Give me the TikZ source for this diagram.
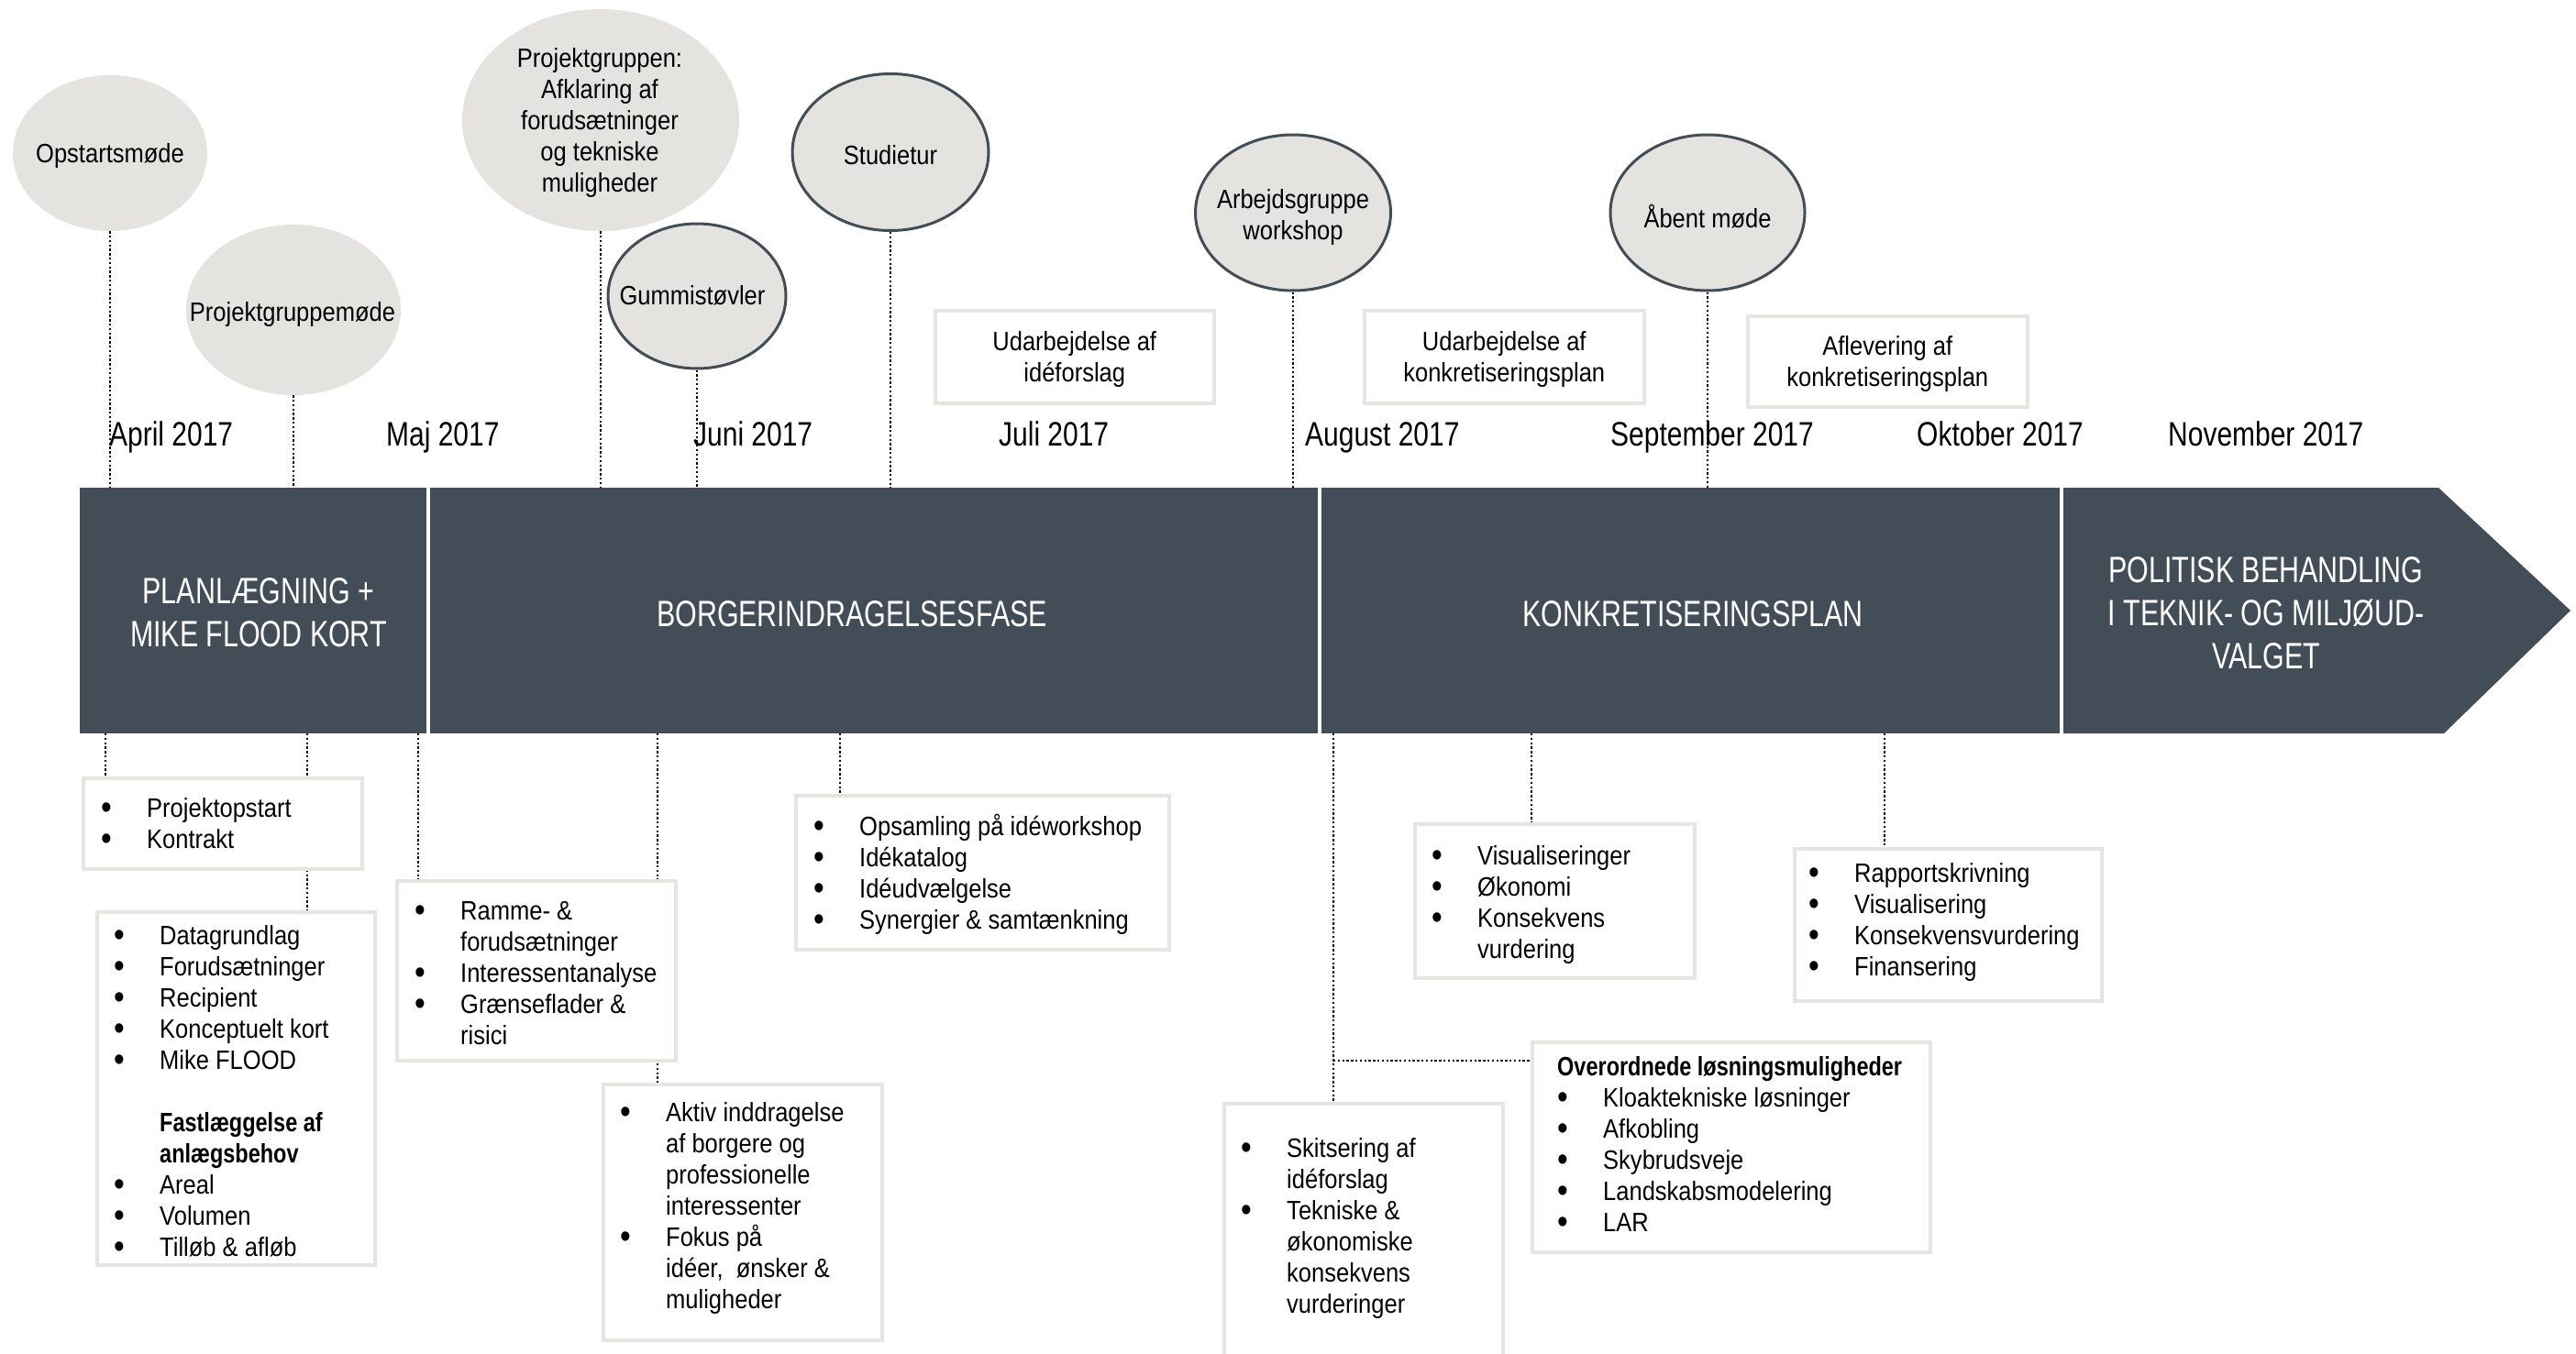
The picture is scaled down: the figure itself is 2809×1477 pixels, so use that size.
\documentclass[tikz,border=0pt]{standalone}
\usepackage{fontspec}
\setmainfont{Liberation Sans}
\newfontfamily\bodyf[FakeStretch=0.88]{Liberation Sans}
\newfontfamily\bodybf[FakeStretch=0.81]{Liberation Sans Bold}
\newfontfamily\monthf[FakeStretch=0.81]{Liberation Sans}
\newfontfamily\phasef[FakeStretch=0.76]{Liberation Sans}
\usetikzlibrary{shapes.geometric,backgrounds}
\definecolor{barc}{HTML}{434D57}
\definecolor{ellc}{HTML}{E4E3DF}
\definecolor{boxc}{HTML}{E6E5E1}
\newcommand{\listfont}{\bodyf\fontsize{29}{34}\selectfont}
\newcommand{\monthfont}{\monthf\fontsize{37}{44}\selectfont}
\newcommand{\phasefont}{\phasef\fontsize{40}{47}\selectfont}
\newcommand{\bul}{\raisebox{-2.5pt}{\fontsize{38}{34}\selectfont\textbullet}}
\newcommand{\itm}[1]{\makebox[50pt][l]{\bul}#1}
\newcommand{\cnt}[1]{\hspace*{50pt}#1}
\newcommand{\hd}[1]{{\bodybf #1}}
\tikzset{
  evt/.style={ellipse, fill=ellc, inner sep=0},
  evtb/.style={evt, draw=barc, line width=3pt},
  evttxt/.style={align=center, inner sep=0, font=\listfont},
  infobox/.style={rectangle, draw=boxc, line width=3.5pt, fill=white, inner sep=0, anchor=north west},
  listtxt/.style={anchor=base west, align=left, inner sep=0, font=\listfont},
  boxtxt/.style={align=center, inner sep=0, font=\listfont},
  dotl/.style={line width=2.3pt, dash pattern=on 2.3pt off 2.5pt, black},
  month/.style={anchor=base west, inner sep=0, font=\monthfont},
  phase/.style={text=white, align=center, inner sep=0, font=\phasefont},
}
\begin{document}
\begin{tikzpicture}[x=1pt,y=-1pt]
\useasboundingbox (0,0) rectangle (2809,1477);
\clip (0,0) rectangle (2809,1477);

% ---- bar ----
\fill[barc] (87,532) rectangle (465,800);
\fill[barc] (469,532) rectangle (1437,800);
\fill[barc] (1441,532) rectangle (2246,800);
\fill[barc] (2250,532) -- (2659,532) -- (2803,666) -- (2665,800) -- (2250,800) -- cycle;
\coordinate (bartop) at (0,532);
\coordinate (barbot) at (0,800);

\node[phase] (p1) at (282,668) {PLANLÆGNING +\\MIKE FLOOD KORT};
\node[phase] (p2) at (929,670) {BORGERINDRAGELSESFASE};
\node[phase] (p3) at (1846,670) {KONKRETISERINGSPLAN};
\node[phase] (p4) at (2471,669) {POLITISK BEHANDLING\\I TEKNIK- OG MILJØUD-\\VALGET};

% ---- events (ellipses) ----
\node[evt,  minimum width=212, minimum height=170] (e1) at (120,167) {};
\node[evt,  minimum width=234, minimum height=186] (e2) at (320,338) {};
\node[evt,  minimum width=302, minimum height=242] (e3) at (655,131) {};
\node[evtb, minimum width=194, minimum height=158] (e4) at (760,323) {};
\node[evtb, minimum width=214, minimum height=171] (e5) at (971,166) {};
\node[evtb, minimum width=213, minimum height=170] (e6) at (1410,232) {};
\node[evtb, minimum width=212, minimum height=170] (e7) at (1862,232) {};

\node[evttxt] (t1) at (120,170) {Opstartsmøde};
\node[evttxt] (t2) at (319,343) {Projektgruppemøde};
\node[evttxt] (t3) at (654,134) {Projektgruppen:\\Afklaring af\\forudsætninger\\og tekniske\\muligheder};
\node[evttxt] (t4) at (755,322) {Gummistøvler};
\node[evttxt] (t5) at (971,169) {Studietur};
\node[evttxt] (t6) at (1410,237) {Arbejdsgruppe\\workshop};
\node[evttxt] (t7) at (1862,236) {Åbent møde};

% ---- top task boxes ----
\node[infobox, minimum width=304, minimum height=101] (bT1) at (1018,337) {};
\node[infobox, minimum width=305, minimum height=101] (bT2) at (1486,337) {};
\node[infobox, minimum width=305, minimum height=99]  (bT3) at (1904,343) {};
\node[boxtxt] (x1) at ([yshift=-3pt]bT1.center) {Udarbejdelse af\\idéforslag};
\node[boxtxt] (x2) at ([yshift=-3pt]bT2.center) {Udarbejdelse af\\konkretiseringsplan};
\node[boxtxt] (x3) at ([yshift=-3pt]bT3.center) {Aflevering af\\konkretiseringsplan};

% ---- months ----
\node[month] (m4)  at (119,486)  {April 2017};
\node[month] (m5)  at (421,486)  {Maj 2017};
\node[month] (m6)  at (756,486)  {Juni 2017};
\node[month] (m7)  at (1089,486) {Juli 2017};
\node[month] (m8)  at (1423,486) {August 2017};
\node[month] (m9)  at (1756,486) {September 2017};
\node[month] (m10) at (2090,486) {Oktober 2017};
\node[month] (m11) at (2364,486) {November 2017};

% ---- lower boxes ----
\node[infobox, minimum width=304, minimum height=99]  (bA) at (89,847) {};
\node[infobox, minimum width=303, minimum height=385] (bB) at (104,993) {};
\node[infobox, minimum width=304, minimum height=196] (bC) at (431,959) {};
\node[infobox, minimum width=304, minimum height=279] (bG) at (656,1181) {};
\node[infobox, minimum width=407, minimum height=168] (bD) at (866,866) {};
\node[infobox, minimum width=305, minimum height=168] (bE) at (1541,897) {};
\node[infobox, minimum width=335, minimum height=166] (bF) at (1955,924) {};
\node[infobox, minimum width=434, minimum height=229] (bH) at (1669,1135) {};
\node[infobox, minimum width=304, minimum height=320] (bI) at (1333,1202) {};

% list texts: anchor = baseline of the LAST line
\node[listtxt] (lA) at (110,925) {\itm{Projektopstart}\\\itm{Kontrakt}};
\node[listtxt] (lB) at (124,1370) {\itm{Datagrundlag}\\\itm{Forudsætninger}\\\itm{Recipient}\\\itm{Konceptuelt kort}\\\itm{Mike FLOOD}\\\mbox{}\\\cnt{\hd{Fastlæggelse af}}\\\cnt{\hd{anlægsbehov}}\\\itm{Areal}\\\itm{Volumen}\\\itm{Tilløb \& afløb}};
\node[listtxt] (lC) at (452,1139) {\itm{Ramme- \&}\\\cnt{forudsætninger}\\\itm{Interessentanalyse}\\\itm{Grænseflader \&}\\\cnt{risici}};
\node[listtxt] (lG) at (676,1427) {\itm{Aktiv inddragelse}\\\cnt{af borgere og}\\\cnt{professionelle}\\\cnt{interessenter}\\\itm{Fokus på}\\\cnt{idéer, \ ønsker \&}\\\cnt{muligheder}};
\node[listtxt] (lD) at (887,1013) {\itm{Opsamling på idéworkshop}\\\itm{Idékatalog}\\\itm{Idéudvælgelse}\\\itm{Synergier \& samtænkning}};
\node[listtxt] (lE) at (1561,1045) {\itm{Visualiseringer}\\\itm{Økonomi}\\\itm{Konsekvens}\\\cnt{vurdering}};
\node[listtxt] (lF) at (1972,1064) {\itm{Rapportskrivning}\\\itm{Visualisering}\\\itm{Konsekvensvurdering}\\\itm{Finansering}};
\node[listtxt] (lH) at (1698,1343) {\hd{Overordnede løsningsmuligheder}\\\itm{Kloaktekniske løsninger}\\\itm{Afkobling}\\\itm{Skybrudsveje}\\\itm{Landskabsmodelering}\\\itm{LAR}};
\node[listtxt] (lI) at (1353,1432) {\itm{Skitsering af}\\\cnt{idéforslag}\\\itm{Tekniske \&}\\\cnt{økonomiske}\\\cnt{konsekvens}\\\cnt{vurderinger}};

% ---- dotted connectors (behind everything) ----
\coordinate (cA) at (115,800);
\coordinate (cB) at (335,800);
\coordinate (cC) at (456,800);
\coordinate (cG) at (717,800);
\coordinate (cD) at (916,800);
\coordinate (cI) at (1454,800);
\coordinate (cE) at (1670,800);
\coordinate (cF) at (2055,800);
\coordinate (cH) at (1454,1157);
\begin{pgfonlayer}{background}
\draw[dotl] (e1.south) -- (e1.south |- bartop);
\draw[dotl] (e2.south) -- (e2.south |- bartop);
\draw[dotl] (e3.south) -- (e3.south |- bartop);
\draw[dotl] (e4.south) -- (e4.south |- bartop);
\draw[dotl] (e5.south) -- (e5.south |- bartop);
\draw[dotl] (e6.south) -- (e6.south |- bartop);
\draw[dotl] (e7.south) -- (e7.south |- bartop);
\draw[dotl] (cA) -- (cA |- bA.north);
\draw[dotl] (cB) -- (cB |- bB.north);
\draw[dotl] (cC) -- (cC |- bC.north);
\draw[dotl] (cG) -- (cG |- bG.north);
\draw[dotl] (cD) -- (cD |- bD.north);
\draw[dotl] (cI) -- (cI |- bI.north);
\draw[dotl] (cE) -- (cE |- bE.north);
\draw[dotl] (cF) -- (cF |- bF.north);
\draw[dotl] (cH) -- (cH -| bH.west);
\end{pgfonlayer}
\end{tikzpicture}
\end{document}
